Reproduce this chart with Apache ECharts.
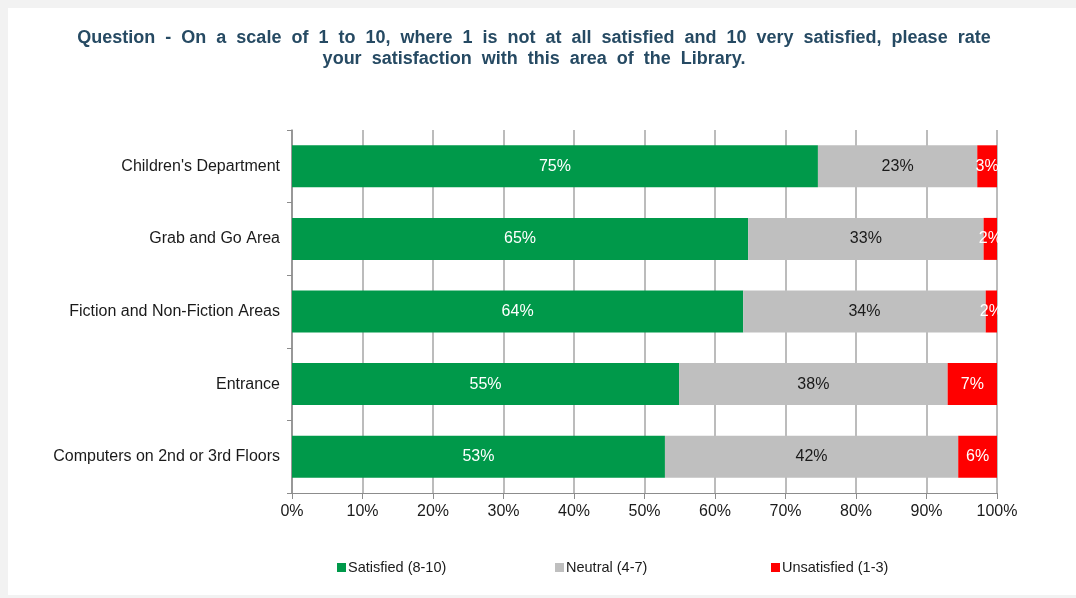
<!DOCTYPE html>
<html>
<head>
<meta charset="utf-8">
<title>Library area satisfaction</title>
<script src="https://cdn.jsdelivr.net/npm/echarts@6/dist/echarts.min.js"></script>
<style>
  html, body { margin: 0; padding: 0; background: #f2f2f2; width: 1076px; height: 598px; overflow: hidden; }
  #chart { position: absolute; left: 8px; top: 8px; width: 1068px; height: 587px; background: #ffffff; }
</style>
</head>
<body>
<div id="chart"></div>
<script>
// Survey areas, listed bottom-to-top as the category axis draws them
const categories = [
  'Computers on 2nd or 3rd Floors',
  'Entrance',
  'Fiction and Non-Fiction Areas',
  'Grab and Go Area',
  "Children's Department"
];

// Share of respondents per rating band (percent)
const satisfied   = [52.9, 54.9, 64.0, 64.7, 74.6];
const neutral     = [41.6, 38.1, 34.4, 33.4, 22.6];
const unsatisfied = [5.5, 7.0, 1.6, 1.9, 2.8];

const seriesNames = ['Satisfied (8-10)', 'Neutral (4-7)', 'Unsatisfied (1-3)'];
const seriesColors = ['#00994a', '#bfbfbf', '#ff0000'];
const labelColors = ['#ffffff', '#1a1a1a', '#ffffff'];

// The heading is set with wide word spacing
const titleLines = [
  'Question - On a scale of 1 to 10, where 1 is not at all satisfied and 10 very satisfied, please rate',
  'your satisfaction with this area of the Library.'
];
const titleText = titleLines.map(l => l.split(' ').join('  ')).join('\n');

const FONT = '"Liberation Sans", Arial, sans-serif';

const chart = echarts.init(document.getElementById('chart'));

const values = [satisfied, neutral, unsatisfied];

const series = seriesNames.map((name, i) => ({
  name: name,
  type: 'bar',
  stack: 'total',
  barWidth: 42,
  data: values[i],
  itemStyle: { color: seriesColors[i] },
  label: {
    show: true,
    position: 'inside',
    color: labelColors[i],
    fontFamily: FONT,
    fontSize: 16,
    formatter: p => Math.round(p.value) + '%'
  },
  emphasis: { disabled: true }
}));

const legendLefts = [324, 542, 758];

chart.setOption({
  animation: false,
  textStyle: { fontFamily: FONT },
  title: {
    text: titleText,
    left: 521,
    textAlign: 'center',
    top: 15,
    textStyle: {
      fontFamily: FONT,
      fontSize: 18,
      fontWeight: 'bold',
      color: '#264a63',
      lineHeight: 21
    }
  },
  legend: seriesNames.map((name, i) => ({
    data: [name],
    left: legendLefts[i],
    top: 547,
    itemWidth: 9,
    itemHeight: 9,
    itemGap: 0,
    icon: 'rect',
    selectedMode: false,
    textStyle: { fontFamily: FONT, fontSize: 14.5, color: '#1a1a1a', padding: [0, 0, 0, -3] }
  })),
  grid: {
    left: 284,
    top: 122,
    width: 705,
    height: 363,
    containLabel: false
  },
  xAxis: {
    type: 'value',
    min: 0,
    max: 100,
    interval: 10,
    axisLine: { show: true, lineStyle: { color: '#8c8c8c', width: 1 } },
    axisTick: { show: true, length: 6, lineStyle: { color: '#8c8c8c' } },
    splitLine: { show: true, lineStyle: { color: '#a6a6a6', width: 1.5 } },
    axisLabel: {
      color: '#1a1a1a',
      fontFamily: FONT,
      fontSize: 16,
      margin: 11,
      formatter: v => v + '%'
    }
  },
  yAxis: {
    type: 'category',
    data: categories,
    axisLine: { show: true, lineStyle: { color: '#8c8c8c', width: 1.5 } },
    axisTick: { show: true, length: 5, lineStyle: { color: '#8c8c8c' } },
    axisLabel: {
      color: '#1a1a1a',
      fontFamily: FONT,
      fontSize: 16,
      margin: 12
    }
  },
  series: series
});
</script>
</body>
</html>
